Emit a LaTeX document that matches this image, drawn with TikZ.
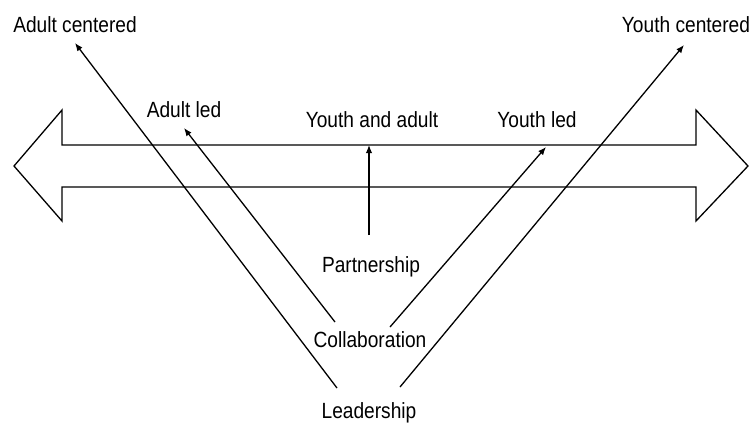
\documentclass[tikz,border=0pt]{standalone}
\usepackage{fontspec}
\setmainfont{Liberation Sans}[FakeStretch=0.87]
\usetikzlibrary{arrows.meta}

\begin{document}
\begin{tikzpicture}[x=0.5pt,y=-0.5pt,line width=0.65pt,>={Latex[length=4pt,width=3.2pt]}]
\useasboundingbox (0,0) rectangle (752,425);
\tikzset{lbl/.style={font=\fontsize{11}{13}\selectfont, inner sep=0pt}}

%% double arrow
\draw (14,166)--(62,110)--(62,145)--(696,145)--(696,110)--(748,166)--(696,221)--(696,187)--(62,187)--(62,221)--cycle;

%% labels
\node[lbl] (adultc) at (75,25) {Adult centered};
\node[lbl] (adultl) at (184,110) {Adult led};
\node[lbl] (both) at (372,120) {Youth and adult};
\node[lbl] (youthl) at (537,120) {Youth led};
\node[lbl] (youthc) at (686,25) {Youth centered};
\node[lbl] (partner) at (371,267) {Partnership};
\node[lbl] (collab) at (370,340) {Collaboration};
\node[lbl] (lead) at (369,413) {Leadership};

%% arrow ends
\coordinate (ac0) at (337,388); \coordinate (ac1) at (75,43);
\coordinate (al0) at (335,322); \coordinate (al1) at (184,128);
\coordinate (ya0) at (369,235); \coordinate (ya1) at (369,145);
\coordinate (yl0) at (390,327); \coordinate (yl1) at (546,147);
\coordinate (yc0) at (400,387); \coordinate (yc1) at (684,45);

\foreach \p in {ac,al,ya,yl,yc}{
	\draw[->] (\p0)--(\p1);
}

\end{tikzpicture}
\end{document}
